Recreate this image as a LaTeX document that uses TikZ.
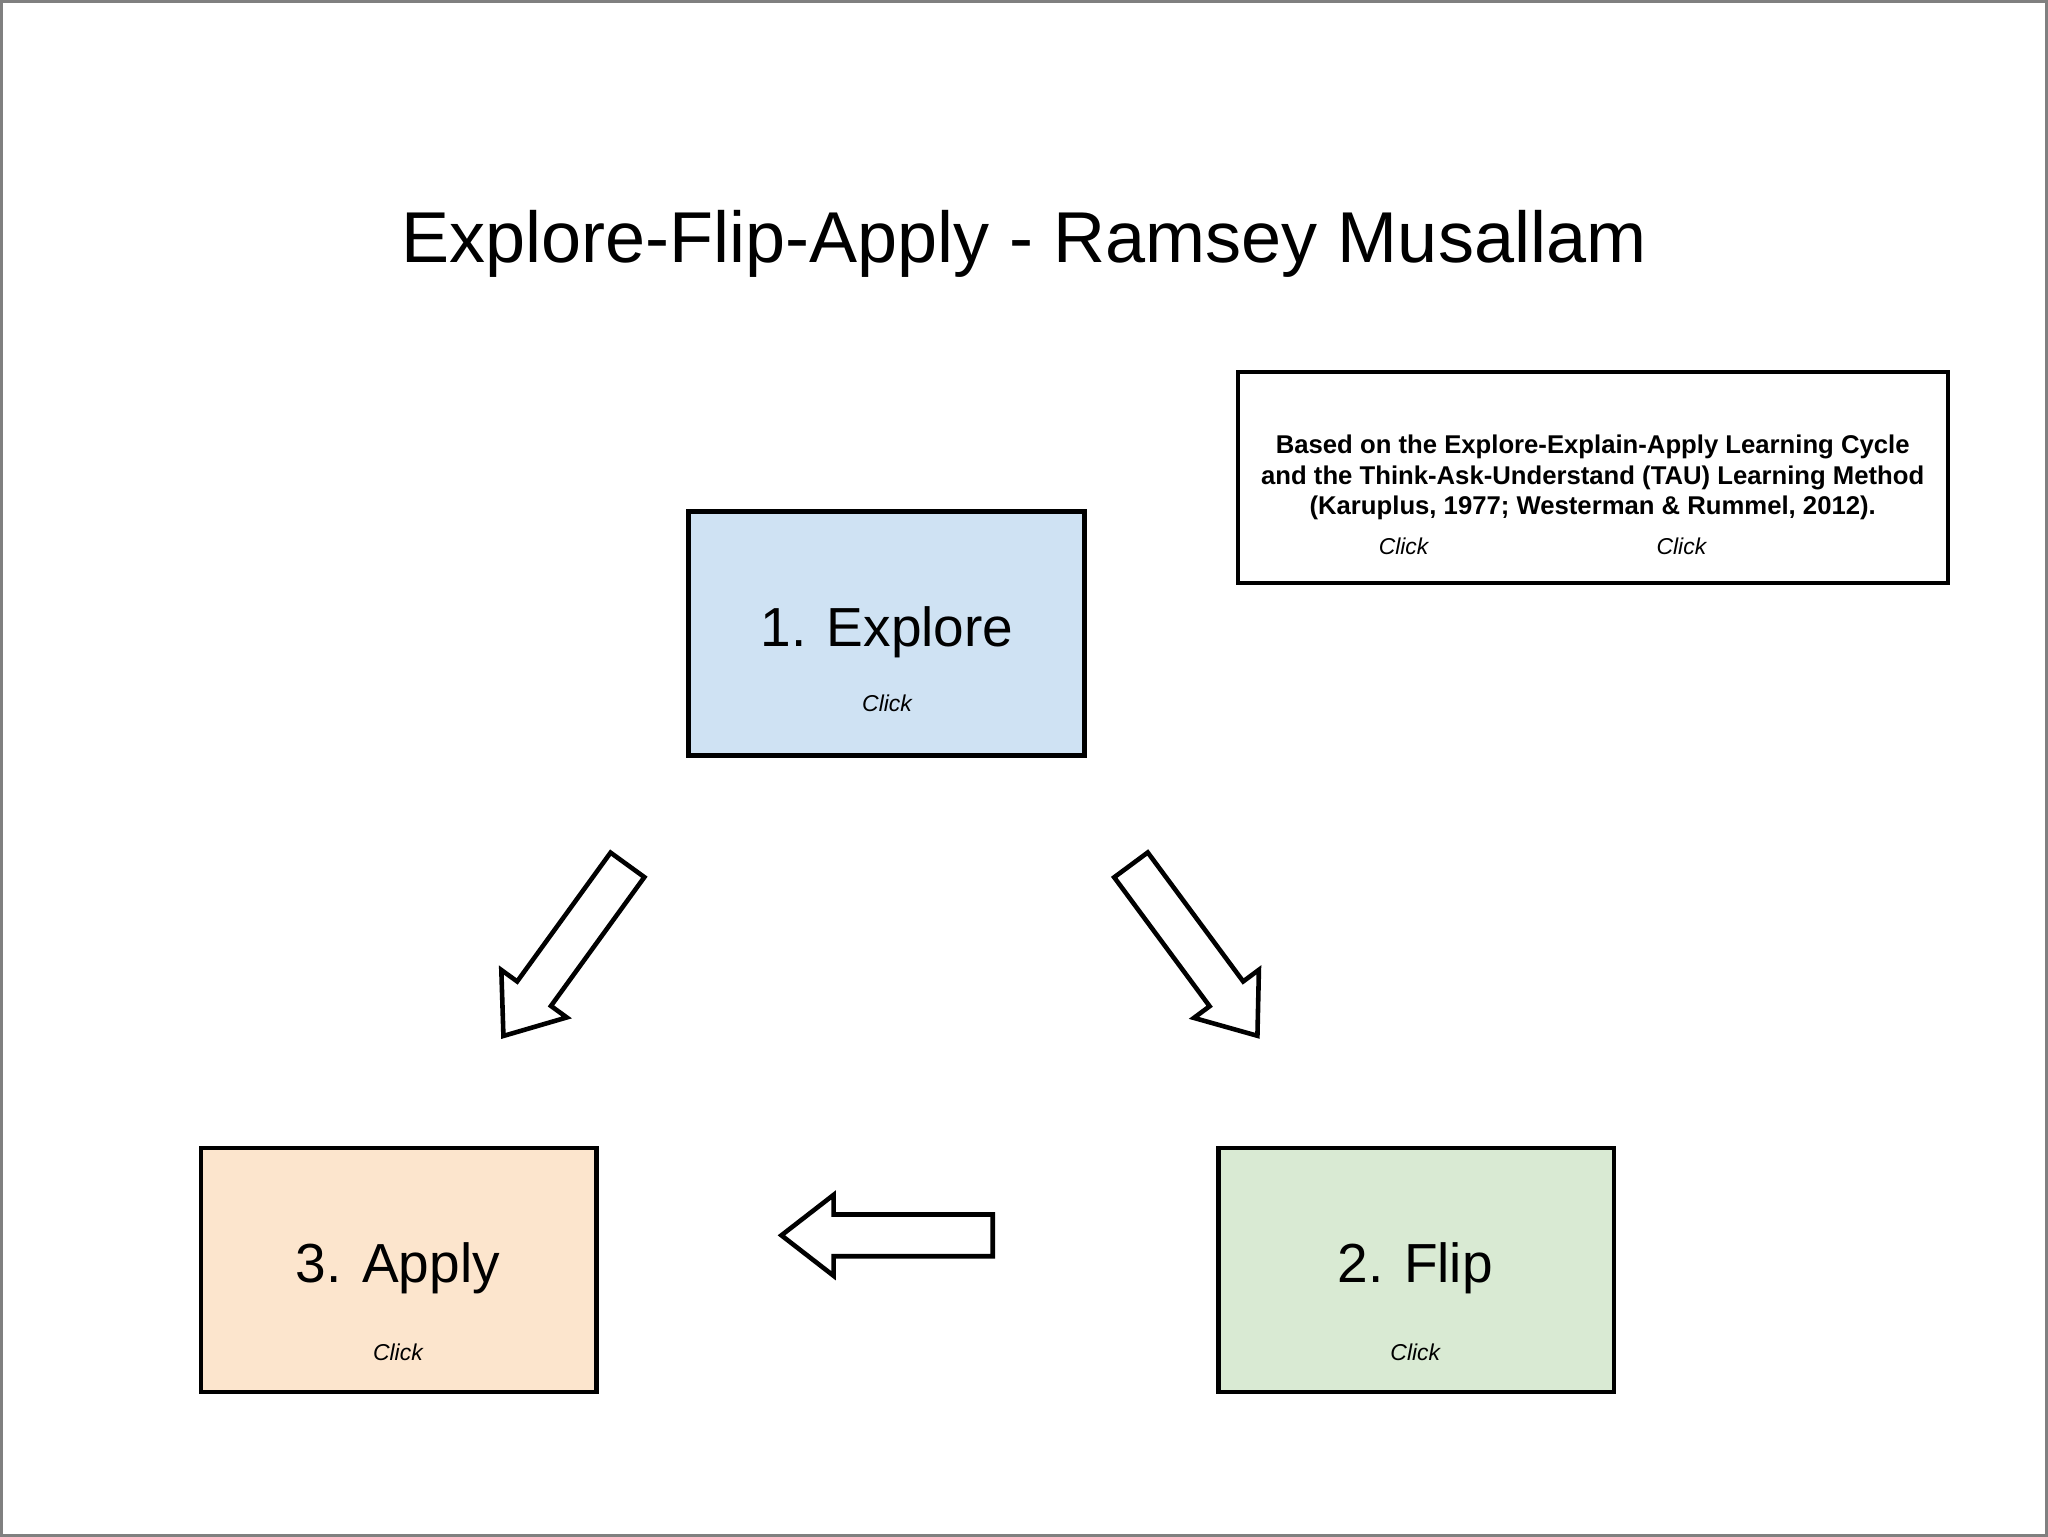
\documentclass[tikz,border=0pt]{standalone}
\usepackage{fontspec}
\setmainfont{Liberation Sans}
\begin{document}
\begin{tikzpicture}[x=0.01cm,y=-0.01cm,
  box/.style={draw=black,line width=1pt,minimum width=3.03cm,minimum height=1.87cm,anchor=north west,inner sep=0,outer sep=0},
  big/.style={font=\fontsize{12}{14}\selectfont},
  clk/.style={font=\fontsize{5}{6}\selectfont\itshape},
  arr/.style={draw=black,line width=1pt,fill=white,line join=miter}]
\newcommand\blockarrow[3]{\begin{scope}[shift={#1},rotate=#2]
 \draw[arr] (0,-16)--(#3-40,-16)--(#3-40,-31)--(#3,0)--(#3-40,31)--(#3-40,16)--(0,16)--cycle;
\end{scope}}
\draw[gray,line width=0.6pt,fill=white] (0,0) rectangle (1568,1176);
\node[font=\fontsize{15.7}{18}\selectfont] (title) at (784,186) {Explore-Flip-Apply - Ramsey Musallam};
\node[box,fill={rgb,255:red,207;green,226;blue,243}] (explore) at (527,391) {};
\node[big] (t1) at (679,484) {1. Explore};
\node[clk] (c1) at (679,538) {Click};
\node[box,fill={rgb,255:red,252;green,229;blue,205}] (apply) at (153,879) {};
\node[big] (t3) at (304,971) {3. Apply};
\node[clk] (c3) at (304,1036) {Click};
\node[box,fill={rgb,255:red,217;green,234;blue,211}] (flip) at (933,879) {};
\node[big] (t2) at (1084,971) {2. Flip};
\node[clk] (c2) at (1084,1036) {Click};
\node[draw=black,line width=0.8pt,minimum width=5.44cm,minimum height=1.62cm,anchor=north west,inner sep=0,outer sep=0] (info) at (948,284) {};
\node[font=\fontsize{5.6}{6.6}\selectfont\bfseries,align=center] (it) at (1220,365) {Based on the Explore-Explain-Apply Learning Cycle\\and the Think-Ask-Understand (TAU) Learning Method\\(Karuplus, 1977; Westerman \& Rummel, 2012).};
\node[clk] (ic1) at (1075,418) {Click};
\node[clk] (ic2) at (1288,418) {Click};
\blockarrow{(480,662)}{234.05}{162}
\blockarrow{(866,662)}{-53.5}{163}
\blockarrow{(760,946)}{180}{162}
\end{tikzpicture}
\end{document}
